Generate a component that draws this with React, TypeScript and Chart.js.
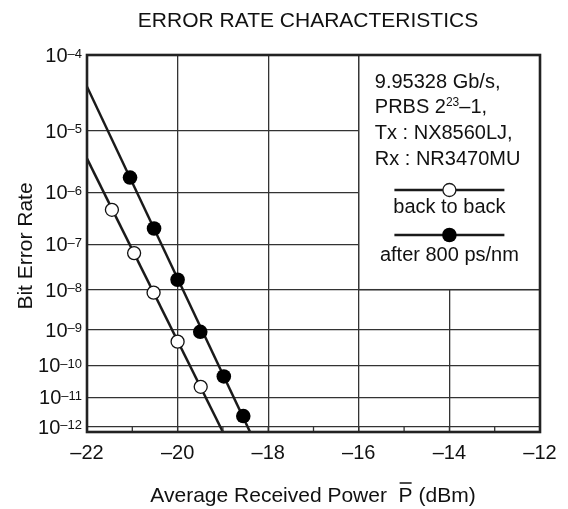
import React, { useEffect, useRef } from "react";
import { Chart, registerables } from "chart.js";

Chart.register(...registerables);

// ---------- data ----------
const titleText = "ERROR RATE CHARACTERISTICS";
const xAxisTitleParts = ["Average Received Power  ", "P", " (dBm)"];
const yAxisTitle = "Bit Error Rate";

const xMin = -22;
const xMax = -12;
const xTicks = [-22, -20, -18, -16, -14, -12];
const xTickLabels = ["–22", "–20", "–18", "–16", "–14", "–12"];
const xMinorTicks = [-21, -20, -19, -18, -17, -16, -15, -14, -13];

const yTopBER = 1e-4;
const yBottomBER = 6.6e-13;
const yTickExponents = [4, 5, 6, 7, 8, 9, 10, 11, 12];
const yTickBase = "10";
const yTickSupLabels = ["–4", "–5", "–6", "–7", "–8", "–9", "–10", "–11", "–12"];

// measured points (BER vs received power)
const backToBackPower = [-21.45, -20.96, -20.53, -20.0, -19.49];
const backToBackBER = [4.8e-7, 6.6e-8, 8.5e-9, 4.7e-10, 2.2e-11];
const after800Power = [-21.05, -20.52, -20.0, -19.5, -18.98, -18.55];
const after800BER = [1.8e-6, 2.1e-7, 1.7e-8, 8.7e-10, 4.6e-11, 2.4e-12];

// fitted straight lines
const backToBackFitPower = [-22, -19.0];
const backToBackFitBER = [3.7e-6, 6.6e-13];
const after800FitPower = [-22, -18.4];
const after800FitBER = [4.05e-5, 6.6e-13];

// legend box (data coordinates)
const legendBoxPower = [-16, -12];
const legendBoxBER = [1e-8, 1e-4];
const legendInfoLines = ["9.95328 Gb/s,", "PRBS 2|23|–1,", "Tx : NX8560LJ,", "Rx : NR3470MU"];
const legendSeriesLabels = ["back to back", "after 800 ps/nm"];
const legendSampleCenterPower = -14;

// ---------- helpers ----------
const FONT = '"Liberation Sans", Arial, Helvetica, sans-serif';
const INK = "#111";
const berToY = (ber: number) => -Math.log10(-Math.log10(ber));
const toPts = (xs: number[], bers: number[]) => xs.map((x, i) => ({ x, y: berToY(bers[i]) }));

export default function App() {
  const ref = useRef<HTMLCanvasElement>(null);

  useEffect(() => {
    const canvas = ref.current;
    if (!canvas) return;

    const plugin = {
      id: "berDecor",
      beforeDatasetsDraw(chart: any) {
        const { ctx } = chart;
        const x = chart.scales.x;
        const y = chart.scales.y;
        const l = x.getPixelForValue(legendBoxPower[0]);
        const r = x.getPixelForValue(legendBoxPower[1]);
        const t = y.getPixelForValue(berToY(legendBoxBER[1]));
        const b = y.getPixelForValue(berToY(legendBoxBER[0]));
        ctx.save();
        ctx.fillStyle = "#fff";
        ctx.fillRect(l, t, r - l, b - t);
        ctx.strokeStyle = "#333";
        ctx.lineWidth = 1.4;
        ctx.strokeRect(l, t, r - l, b - t);
        ctx.restore();
      },
      afterDraw(chart: any) {
        const { ctx, chartArea } = chart;
        const x = chart.scales.x;
        const y = chart.scales.y;
        ctx.save();

        // minor ticks along bottom band
        const yb12 = y.getPixelForValue(berToY(1e-12));
        ctx.strokeStyle = "#333";
        ctx.lineWidth = 1.3;
        xMinorTicks.forEach((v) => {
          const px = x.getPixelForValue(v);
          ctx.beginPath();
          ctx.moveTo(px, yb12);
          ctx.lineTo(px, chartArea.bottom);
          ctx.stroke();
        });

        // frame
        ctx.strokeStyle = "#222";
        ctx.lineWidth = 2.6;
        ctx.strokeRect(chartArea.left, chartArea.top, chartArea.right - chartArea.left, chartArea.bottom - chartArea.top);

        ctx.fillStyle = INK;

        // title
        ctx.font = `21px ${FONT}`;
        ctx.textAlign = "center";
        ctx.textBaseline = "alphabetic";
        ctx.fillText(titleText, 308, 26.5);

        // y tick labels
        const right = chartArea.left - 5;
        yTickExponents.forEach((n, i) => {
          const py = y.getPixelForValue(berToY(Math.pow(10, -n)));
          ctx.font = `13px ${FONT}`;
          ctx.textAlign = "right";
          const sup = yTickSupLabels[i];
          const supW = ctx.measureText(sup).width;
          ctx.fillText(sup, right, py + 2.5);
          ctx.font = `20px ${FONT}`;
          ctx.fillText(yTickBase, right - supW, py + 7);
        });

        // x tick labels
        ctx.font = `20px ${FONT}`;
        ctx.textAlign = "center";
        xTicks.forEach((v, i) => {
          ctx.fillText(xTickLabels[i], x.getPixelForValue(v), 459);
        });

        // x axis title with overline P
        ctx.font = `21px ${FONT}`;
        ctx.textAlign = "left";
        const w0 = ctx.measureText(xAxisTitleParts[0]).width;
        const w1 = ctx.measureText(xAxisTitleParts[1]).width;
        const w2 = ctx.measureText(xAxisTitleParts[2]).width;
        let sx = 313 - (w0 + w1 + w2) / 2;
        const base = 501.5;
        ctx.fillText(xAxisTitleParts[0], sx, base);
        sx += w0;
        ctx.fillText(xAxisTitleParts[1], sx, base);
        ctx.strokeStyle = INK;
        ctx.lineWidth = 1.5;
        ctx.beginPath();
        ctx.moveTo(sx + 1, base - 18.5);
        ctx.lineTo(sx + w1 - 1, base - 18.5);
        ctx.stroke();
        sx += w1;
        ctx.fillText(xAxisTitleParts[2], sx, base);

        // y axis title
        ctx.save();
        ctx.translate(31.5, 246);
        ctx.rotate(-Math.PI / 2);
        ctx.textAlign = "center";
        ctx.font = `21px ${FONT}`;
        ctx.fillText(yAxisTitle, 0, 0);
        ctx.restore();

        // legend box content
        const boxL = x.getPixelForValue(legendBoxPower[0]);
        const boxT = y.getPixelForValue(berToY(legendBoxBER[1]));
        const lineOffsets = [33.3, 58.3, 84.3, 110];
        ctx.textAlign = "left";
        legendInfoLines.forEach((line, i) => {
          const parts = line.split("|");
          let lx = boxL + 16;
          const ly = boxT + lineOffsets[i];
          parts.forEach((p, j) => {
            const isSup = j === 1;
            ctx.font = isSup ? `12px ${FONT}` : `20px ${FONT}`;
            ctx.fillText(p, lx, isSup ? ly - 7 : ly);
            lx += ctx.measureText(p).width;
          });
        });

        const cx = x.getPixelForValue(legendSampleCenterPower);
        const sampleY = [boxT + 135, boxT + 180];
        const labelY = [boxT + 158.3, boxT + 206];
        ctx.strokeStyle = "#1a1a1a";
        ctx.lineWidth = 2.5;
        sampleY.forEach((sy, i) => {
          ctx.beginPath();
          ctx.moveTo(cx - 55, sy);
          ctx.lineTo(cx + 55, sy);
          ctx.stroke();
          ctx.beginPath();
          if (i === 0) {
            ctx.arc(cx, sy, 6.5, 0, Math.PI * 2);
            ctx.fillStyle = "#fff";
            ctx.fill();
            ctx.lineWidth = 1.3;
            ctx.stroke();
            ctx.lineWidth = 2.5;
          } else {
            ctx.arc(cx, sy, 7.3, 0, Math.PI * 2);
            ctx.fillStyle = "#000";
            ctx.fill();
          }
          ctx.fillStyle = INK;
          ctx.font = `20px ${FONT}`;
          ctx.textAlign = "center";
          ctx.fillText(legendSeriesLabels[i], cx, labelY[i]);
        });

        ctx.restore();
      },
    };

    const chart = new Chart(canvas, {
      type: "scatter",
      data: {
        datasets: [
          {
            type: "line",
            data: toPts(backToBackFitPower, backToBackFitBER),
            borderColor: "#1a1a1a",
            borderWidth: 2.5,
            pointRadius: 0,
            fill: false,
            order: 2,
          } as any,
          {
            type: "line",
            data: toPts(after800FitPower, after800FitBER),
            borderColor: "#1a1a1a",
            borderWidth: 2.5,
            pointRadius: 0,
            fill: false,
            order: 2,
          } as any,
          {
            data: toPts(backToBackPower, backToBackBER),
            pointRadius: 6.5,
            pointBackgroundColor: "#fff",
            pointBorderColor: "#111",
            pointBorderWidth: 1.3,
            showLine: false,
            order: 1,
          },
          {
            data: toPts(after800Power, after800BER),
            pointRadius: 7.3,
            pointBackgroundColor: "#000",
            pointBorderColor: "#000",
            pointBorderWidth: 0,
            showLine: false,
            order: 1,
          },
        ],
      },
      options: {
        animation: false,
        responsive: false,
        events: [],
        layout: { padding: { left: 87, top: 55, right: 28, bottom: 77 } },
        plugins: {
          legend: { display: false },
          tooltip: { enabled: false },
          title: { display: false },
        },
        scales: {
          x: {
            type: "linear",
            min: xMin,
            max: xMax,
            afterBuildTicks: (s: any) => {
              s.ticks = xTicks.map((v) => ({ value: v }));
            },
            ticks: { display: false },
            grid: { color: "#333", lineWidth: 1.3, drawTicks: false },
            border: { display: false },
          },
          y: {
            type: "linear",
            min: berToY(yBottomBER),
            max: berToY(yTopBER),
            afterBuildTicks: (s: any) => {
              s.ticks = yTickExponents.map((n) => ({ value: berToY(Math.pow(10, -n)) }));
            },
            ticks: { display: false },
            grid: { color: "#333", lineWidth: 1.3, drawTicks: false },
            border: { display: false },
          },
        },
      } as any,
      plugins: [plugin],
    });

    return () => chart.destroy();
  }, []);

  return (
    <div style={{ position: "fixed", left: 0, top: 0, width: 568, height: 509, background: "#fff" }}>
      <canvas ref={ref} width={568} height={509} style={{ display: "block", width: 568, height: 509 }} />
    </div>
  );
}
